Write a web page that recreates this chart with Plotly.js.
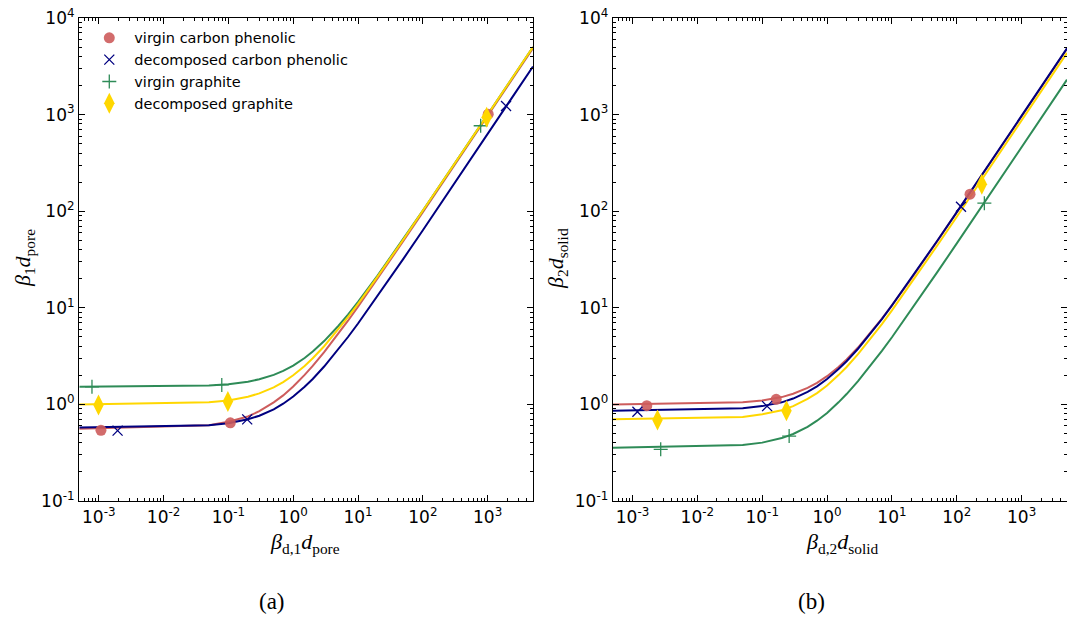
<!DOCTYPE html>
<html>
<head>
<meta charset="utf-8">
<script src="https://cdn.plot.ly/plotly-3.0.1.min.js"></script>
<style>html,body{margin:0;padding:0;background:#fff;}#chart{width:1067px;height:621px;}</style>
</head>
<body>
<div id="chart"></div>
<script>
// ---- shared x grid for the curves
var xCurve = [5e-4, 0.05, 0.1, 0.2, 0.3, 0.5, 0.7, 1, 1.5, 2, 3, 5, 7, 10, 20, 50, 100, 1000, 5000];

// ---- panel (a): beta_1 d_pore vs beta_d,1 d_pore
var aRedCurve    = [0.56, 0.61, 0.66, 0.75, 0.85, 1.05, 1.24, 1.53, 2.02, 2.50, 3.47, 5.41, 7.35, 10.3, 20.0, 49.1, 97.6, 970, 4850];
var aBlueCurve   = [0.575, 0.607, 0.638, 0.701, 0.764, 0.89, 1.016, 1.205, 1.52, 1.835, 2.465, 3.725, 4.985, 6.88, 13.2, 32.1, 63.6, 630, 3150];
var aGreenCurve  = [1.52, 1.57, 1.62, 1.72, 1.82, 2.02, 2.22, 2.52, 3.02, 3.52, 4.52, 6.52, 8.52, 11.5, 21.5, 51.5, 101.5, 1000, 5000];
var aYellowCurve = [1.0, 1.05, 1.1, 1.2, 1.3, 1.5, 1.7, 2.0, 2.5, 3.0, 4.0, 6.0, 8.0, 11, 21, 51, 101, 1000, 5000];

var aRedPtsX = [1.08e-3, 0.107, 1020];   var aRedPtsY = [0.54, 0.645, 1010];
var aBluePtsX = [1.95e-3, 0.195, 1920];  var aBluePtsY = [0.535, 0.70, 1230];
var aGreenPtsX = [7.85e-4, 0.079, 780];  var aGreenPtsY = [1.52, 1.59, 767];
var aYellowPtsX = [9.9e-4, 0.098, 966];  var aYellowPtsY = [0.985, 1.07, 937];

// ---- panel (b): beta_2 d_solid vs beta_d,2 d_solid
var bRedCurve    = [1.0, 1.05, 1.1, 1.19, 1.29, 1.48, 1.67, 1.96, 2.44, 2.92, 3.88, 5.8, 7.72, 10.6, 20.2, 49, 97, 960, 4800];
var bBlueCurve   = [0.86, 0.91, 0.96, 1.05, 1.15, 1.35, 1.54, 1.83, 2.32, 2.8, 3.77, 5.71, 7.65, 10.6, 20.3, 49.4, 97.9, 971, 4850];
var bGreenCurve  = [0.356, 0.379, 0.402, 0.448, 0.494, 0.586, 0.678, 0.816, 1.05, 1.28, 1.74, 2.66, 3.58, 4.96, 9.56, 23.4, 46.4, 460, 2300];
var bYellowCurve = [0.70, 0.74, 0.79, 0.87, 0.96, 1.14, 1.31, 1.57, 2.01, 2.44, 3.31, 5.05, 6.79, 9.4, 18.1, 44.2, 87.7, 870, 4350];

var bRedPtsX = [1.66e-3, 0.164, 160];    var bRedPtsY = [0.97, 1.13, 150];
var bBluePtsX = [1.19e-3, 0.119, 116];   var bBluePtsY = [0.84, 0.96, 111];
var bGreenPtsX = [2.72e-3, 0.26, 266];   var bGreenPtsY = [0.343, 0.47, 121];
var bYellowPtsX = [2.43e-3, 0.236, 243]; var bYellowPtsY = [0.69, 0.86, 190];

var seriesNames = ['virgin carbon phenolic', 'decomposed carbon phenolic', 'virgin graphite', 'decomposed graphite'];
var xTickVals = [1e-3, 1e-2, 1e-1, 1, 10, 100, 1000];
var xTickText = ['10<sup>-3</sup>', '10<sup>-2</sup>', '10<sup>-1</sup>', '10<sup>0</sup>', '10<sup>1</sup>', '10<sup>2</sup>', '10<sup>3</sup>'];
var yTickVals = [0.1, 1, 10, 100, 1000, 10000];
var yTickText = ['10<sup>-1</sup>', '10<sup>0</sup>', '10<sup>1</sup>', '10<sup>2</sup>', '10<sup>3</sup>', '10<sup>4</sup>'];

// styles
var cRed = '#CD5C5C', cBlue = '#000080', cGreen = '#2E8B57', cYellow = '#FFD700';
var colors = [cRed, cBlue, cGreen, cYellow];

function minorVals(lo, hi) {
  var v = [];
  for (var e = lo; e <= hi; e++) for (var m = 2; m <= 9; m++) v.push(m * Math.pow(10, e));
  return v;
}

var traces = [];
function addCurves(curves, xa, ya) {
  for (var i = 0; i < curves.length; i++) {
    traces.push({x: xCurve, y: curves[i], xaxis: xa, yaxis: ya, mode: 'lines',
      line: {color: colors[i], width: 2}, showlegend: false, hoverinfo: 'skip'});
  }
}
addCurves([aRedCurve, aBlueCurve, aGreenCurve, aYellowCurve], 'x', 'y');
addCurves([bRedCurve, bBlueCurve, bGreenCurve, bYellowCurve], 'x2', 'y2');

var markerStyles = [
  {symbol: 'circle', size: 11, color: cRed, opacity: 0.9, line: {width: 0}},
  {symbol: 'x-thin', size: 10, color: cBlue, line: {color: cBlue, width: 1.3}},
  {symbol: 'cross-thin', size: 10, color: cGreen, line: {color: cGreen, width: 1.3}},
  {symbol: 'diamond-tall', size: 15, color: cYellow, line: {width: 0}}
];
function addPoints(pxs, pys, xa, ya, legend) {
  for (var i = 0; i < pxs.length; i++) {
    traces.push({x: pxs[i], y: pys[i], xaxis: xa, yaxis: ya, mode: 'markers',
      name: seriesNames[i], marker: markerStyles[i], showlegend: legend, legendgroup: 'g' + i});
  }
}
addPoints([aRedPtsX, aBluePtsX, aGreenPtsX, aYellowPtsX], [aRedPtsY, aBluePtsY, aGreenPtsY, aYellowPtsY], 'x', 'y', true);
addPoints([bRedPtsX, bBluePtsX, bGreenPtsX, bYellowPtsX], [bRedPtsY, bBluePtsY, bGreenPtsY, bYellowPtsY], 'x2', 'y2', false);

var tickFont = {family: 'DejaVu Sans', size: 17, color: '#000'};
function xAxis(dom, anchor) {
  return {type: 'log', domain: dom, anchor: anchor, range: [Math.log10(5e-4), Math.log10(5e3)],
    tickvals: xTickVals, ticktext: xTickText, ticks: 'inside', ticklen: 6, tickwidth: 1, tickcolor: '#000',
    minor: {tickvals: minorVals(-4, 3), ticks: 'inside', ticklen: 3, tickwidth: 1, tickcolor: '#000', showgrid: false},
    showline: true, linecolor: '#000', linewidth: 1.3, mirror: 'allticks', showgrid: false, zeroline: false,
    tickfont: tickFont, automargin: false};
}
function yAxis(anchor) {
  return {type: 'log', domain: [0, 1], anchor: anchor, range: [-1, 4],
    tickvals: yTickVals, ticktext: yTickText, ticks: 'inside', ticklen: 6, tickwidth: 1, tickcolor: '#000',
    minor: {tickvals: minorVals(-1, 3), ticks: 'inside', ticklen: 3, tickwidth: 1, tickcolor: '#000', showgrid: false},
    showline: true, linecolor: '#000', linewidth: 1.3, mirror: 'allticks', showgrid: false, zeroline: false,
    tickfont: tickFont, automargin: false};
}

var serif = {family: 'Liberation Serif', size: 22, color: '#000'};
var layout = {
  width: 1067, height: 621,
  margin: {l: 0, r: 0, t: 18, b: 120},
  paper_bgcolor: '#fff', plot_bgcolor: '#fff',
  xaxis: xAxis([0.0743, 0.4995], 'y'),
  yaxis: yAxis('x'),
  xaxis2: xAxis([0.5745, 1.0], 'y2'),
  yaxis2: yAxis('x2'),
  showlegend: true,
  legend: {x: 0.079, y: 0.992, xanchor: 'left', yanchor: 'top', bgcolor: 'rgba(0,0,0,0)',
    font: {family: 'DejaVu Sans', size: 14.5, color: '#000'}, tracegroupgap: 0, itemwidth: 40},
  annotations: [
    {text: '<i>β</i><sub>d,1</sub><i>d</i><sub>pore</sub>', xref: 'paper', yref: 'paper', x: 0.286, y: -0.087, showarrow: false, font: serif, xanchor: 'center', yanchor: 'middle'},
    {text: '<i>β</i><sub>d,2</sub><i>d</i><sub>solid</sub>', xref: 'paper', yref: 'paper', x: 0.789, y: -0.087, showarrow: false, font: serif, xanchor: 'center', yanchor: 'middle'},
    {text: '<i>β</i><sub>1</sub><i>d</i><sub>pore</sub>', xref: 'paper', yref: 'paper', x: 0.0225, y: 0.503, textangle: -90, showarrow: false, font: serif, xanchor: 'center', yanchor: 'middle'},
    {text: '<i>β</i><sub>2</sub><i>d</i><sub>solid</sub>', xref: 'paper', yref: 'paper', x: 0.522, y: 0.503, textangle: -90, showarrow: false, font: serif, xanchor: 'center', yanchor: 'middle'},
    {text: '(a)', xref: 'paper', yref: 'paper', x: 0.255, y: -0.209, showarrow: false, font: {family: 'Liberation Serif', size: 23, color: '#000'}, xanchor: 'center', yanchor: 'middle'},
    {text: '(b)', xref: 'paper', yref: 'paper', x: 0.761, y: -0.209, showarrow: false, font: {family: 'Liberation Serif', size: 23, color: '#000'}, xanchor: 'center', yanchor: 'middle'}
  ]
};

Plotly.newPlot('chart', traces, layout, {displayModeBar: false, staticPlot: true});
</script>
</body>
</html>
